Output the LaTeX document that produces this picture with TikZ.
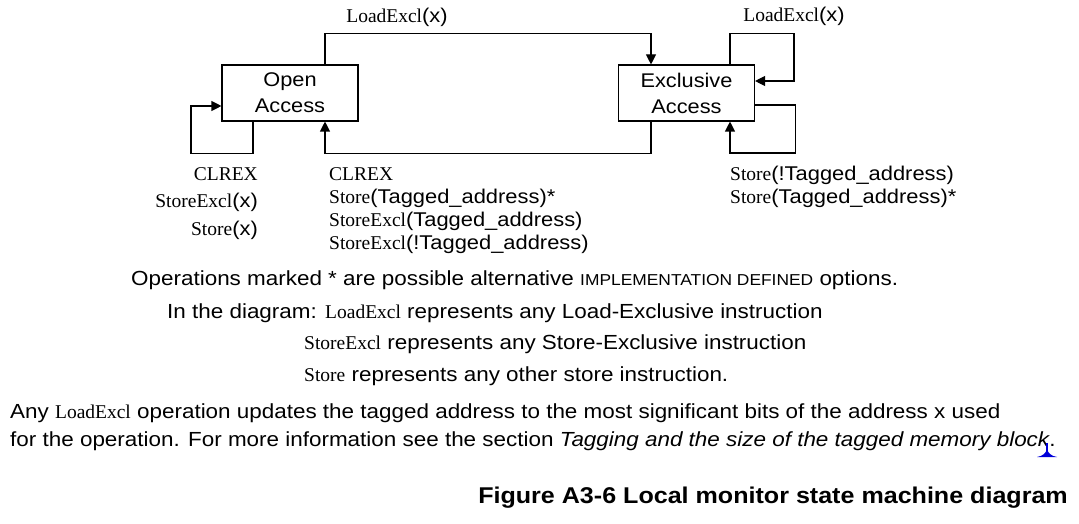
\documentclass[tikz,border=0pt]{standalone}
\usepackage{fontspec}
\setmainfont{Liberation Sans}[FakeStretch=1.1]
\newfontfamily\opfont{Liberation Serif}
\usepackage{tikz}
\usetikzlibrary{arrows.meta}

\newcommand{\opname}[1]{{\opfont\fontsize{19.5}{19.5}\selectfont #1}}
\tikzset{
  state/.style={draw,line width=1.1pt,minimum width=136pt,minimum height=56pt,inner sep=0pt,align=center,font=\fontsize{19.8}{26}\selectfont},
  lbl/.style={inner sep=0pt,font=\fontsize{19.9}{19.9}\selectfont},
  note/.style={inner sep=0pt,font=\fontsize{20.4}{20.4}\selectfont},
  link/.style={line width=1.1pt}
}

\begin{document}
\begin{tikzpicture}[x=1pt,y=-1pt,>={Triangle[length=10pt,width=10pt]}]
\useasboundingbox (0,0) rectangle (1079,524);
% states
\node[state] (open) at (290,93) {Open\\Access};
\node[state] (excl) at (686.5,93) {Exclusive\\Access};
% transitions
\draw[link,->] ([xshift=35pt]open.north) -- ++(0,-31) -| ([xshift=-35.5pt]excl.north);
\draw[link,->] ([xshift=-35.5pt]excl.south) -- ++(0,32) -| ([xshift=35pt]open.south);
\draw[link,->] ([xshift=-37pt]open.south) -- ++(0,32) -- ++(-62,0) |- ([yshift=-13pt]open.west);
\draw[link,->] ([xshift=43.5pt]excl.north) -- ++(0,-31) -- ++(64,0) |- ([yshift=12pt]excl.east);
\draw[link,->] ([yshift=-12pt]excl.east) -- ++(40,0) -- ++(0,48) -| ([xshift=43.5pt]excl.south);
% labels
\node[lbl] (ldTop) at (397,17) {\opname{LoadExcl}(x)};
\node[lbl] (ldRight) at (794,16) {\opname{LoadExcl}(x)};
\node[lbl,anchor=east] (clrA) at (258,174) {\opname{CLREX}};
\node[lbl,anchor=east] (stxA) at (258,202) {\opname{StoreExcl}(x)};
\node[lbl,anchor=east] (stA) at (258,230) {\opname{Store}(x)};
\node[lbl,anchor=west] (clrB) at (329,174) {\opname{CLREX}};
\node[lbl,anchor=west] (stB) at (329,198) {\opname{Store}(Tagged\_address)*};
\node[lbl,anchor=west] (stxB) at (329,221) {\opname{StoreExcl}(Tagged\_address)};
\node[lbl,anchor=west] (stxC) at (329,244) {\opname{StoreExcl}(!Tagged\_address)};
\node[lbl,anchor=west] (stC) at (730,175) {\opname{Store}(!Tagged\_address)};
\node[lbl,anchor=west] (stD) at (730,198) {\opname{Store}(Tagged\_address)*};
% notes
\node[note,anchor=west] (n1) at (131,280) {Operations marked * are possible alternative {\fontsize{15.8}{15.8}\selectfont IMPLEMENTATION DEFINED} options.};
\node[note,anchor=west] (n2) at (167,313) {In the diagram: \opname{LoadExcl} represents any Load-Exclusive instruction};
\node[note,anchor=west] (n3) at (304,344) {\opname{StoreExcl} represents any Store-Exclusive instruction};
\node[note,anchor=west] (n4) at (304,376) {\opname{Store} represents any other store instruction.};
\node[note,anchor=west] (n5) at (10,413) {Any \opname{LoadExcl} operation updates the tagged address to the most significant bits of the address x used};
\node[note,anchor=west] (n6) at (10,441) {for the operation. For more information see the section \textit{Tagging and the size of the tagged memory block}.};
\node[inner sep=0pt,anchor=east,font=\fontsize{22.8}{22.8}\selectfont\bfseries] (cap) at (1068,498) {Figure A3-6 Local monitor state machine diagram};
% anchor mark
\fill[blue!85!black] (1046,443) rectangle (1048,452);
\fill[blue!85!black] (1037,457) .. controls (1043,456) and (1046,453) .. (1047,449) .. controls (1048,453) and (1051,456) .. (1057,457) -- cycle;
\end{tikzpicture}
\end{document}
